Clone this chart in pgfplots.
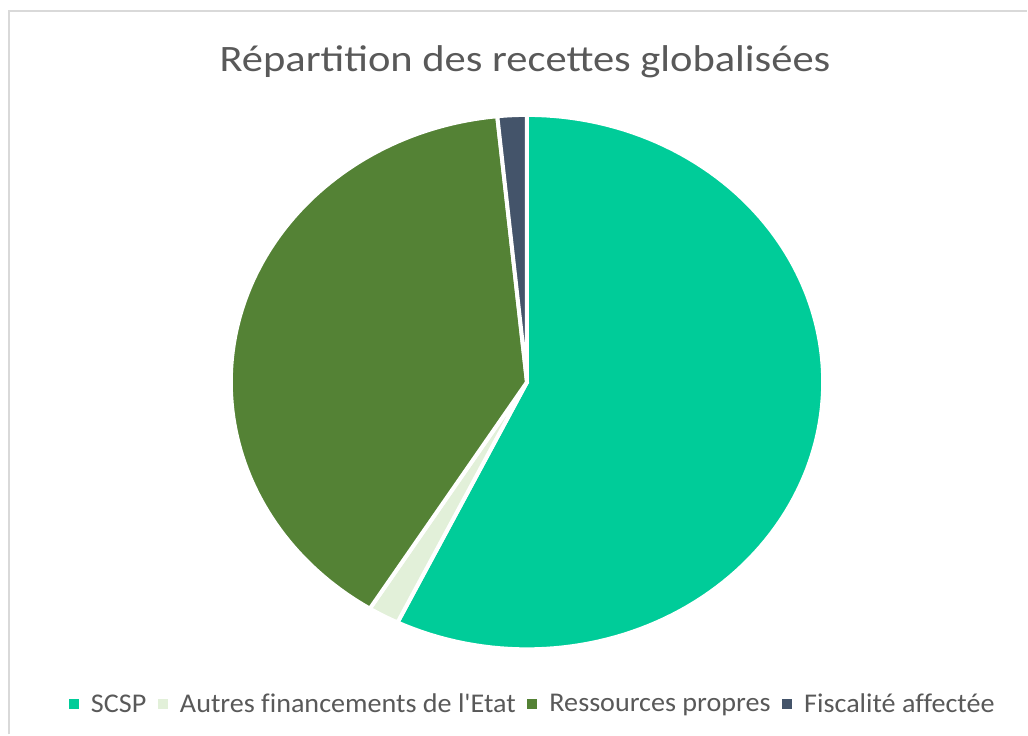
\documentclass[border=0pt]{standalone}
\usepackage{pgfplots}
\pgfplotsset{compat=1.18}
\usepackage{pgfplotstable}
\usepackage{fontspec}
\setmainfont{Carlito}
\newfontfamily\titlefont[FakeStretch=1.14]{Carlito}
\newfontfamily\legendfont[Ligatures={TeXOff,CommonOff}, FakeStretch=1.04]{Carlito}
\definecolor{scsp}{HTML}{00CC99}
\definecolor{autres}{HTML}{E2F0D9}
\definecolor{ressources}{HTML}{548235}
\definecolor{fiscalite}{HTML}{44546A}
\definecolor{txtgray}{HTML}{595959}
\definecolor{bordergray}{HTML}{D9D9D9}

\pgfplotstableread{
label value
SCSP 57.2
Autres 1.7
Ressources 39.5
Fiscalite 1.6
}\piedata
\pgfplotstablegetelem{0}{value}\of\piedata \let\vA\pgfplotsretval
\pgfplotstablegetelem{1}{value}\of\piedata \let\vB\pgfplotsretval
\pgfplotstablegetelem{2}{value}\of\piedata \let\vC\pgfplotsretval
\pgfplotstablegetelem{3}{value}\of\piedata \let\vD\pgfplotsretval
\pgfmathsetmacro\aZero{90}
\pgfmathsetmacro\aOne{\aZero-3.6*\vA}
\pgfmathsetmacro\aTwo{\aOne-3.6*\vB}
\pgfmathsetmacro\aThree{\aTwo-3.6*\vC}
\pgfmathsetmacro\aFour{\aThree-3.6*\vD}

\begin{document}
\begin{tikzpicture}
\begin{axis}[
  scale only axis, width=771pt, height=551.25pt,
  xmin=0, xmax=1028, ymin=0, ymax=735,
  axis lines=none, clip=false,
  legend columns=-1,
  legend image code/.code={\fill[#1, draw=none] (0pt,-3.75pt) rectangle (7.5pt,3.75pt);},
  legend style={at={(axis cs:533.5,30)}, anchor=center, draw=none, fill=none,
    font=\legendfont\fontsize{20.3}{24}\selectfont, text=txtgray,
    /tikz/every even column/.append style={column sep=6.5pt},
    /tikz/every odd column/.append style={column sep=7.25pt}},
]
\path (axis cs:0,0) rectangle (axis cs:1028,735);
\addplot[fill=scsp, draw=white, line width=3pt, domain=\aOne:\aZero, samples=120]
  ({527.5+296.5*cos(x)},{352.5+267.5*sin(x)}) -- (axis cs:527.5,352.5) -- cycle;
\addlegendentry{SCSP}
\addplot[fill=autres, draw=white, line width=3pt, domain=\aTwo:\aOne, samples=10]
  ({527.5+296.5*cos(x)},{352.5+267.5*sin(x)}) -- (axis cs:527.5,352.5) -- cycle;
\addlegendentry{Autres financements de l'Etat}
\addplot[fill=ressources, draw=white, line width=3pt, domain=\aThree:\aTwo, samples=100]
  ({527.5+296.5*cos(x)},{352.5+267.5*sin(x)}) -- (axis cs:527.5,352.5) -- cycle;
\addlegendentry{Ressources propres}
\addplot[fill=fiscalite, draw=white, line width=3pt, domain=\aFour:\aThree, samples=10]
  ({527.5+296.5*cos(x)},{352.5+267.5*sin(x)}) -- (axis cs:527.5,352.5) -- cycle;
\addlegendentry{Fiscalité affectée}
\draw[bordergray, line width=1.5pt] (axis cs:9,0) -- (axis cs:9,724) -- (axis cs:1028,724);
\node[text=txtgray, font=\titlefont\fontsize{28}{32}\selectfont] at (axis cs:525.5,673) {Répartition des recettes globalisées};
\end{axis}
\end{tikzpicture}
\end{document}
